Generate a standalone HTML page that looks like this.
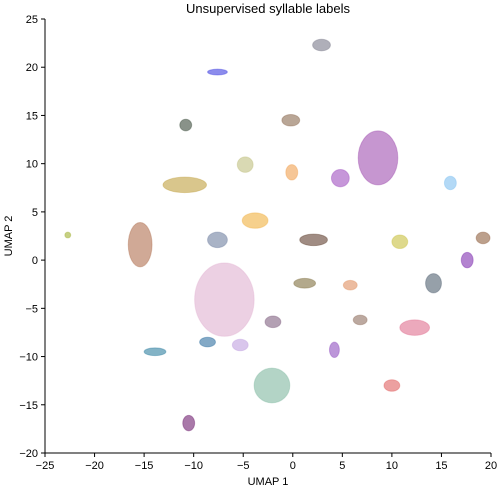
<!DOCTYPE html>
<html><head><meta charset="utf-8"><style>
body{margin:0;background:#fff;}
svg{display:block;font-family:"Liberation Sans",sans-serif;}
</style></head><body>
<svg id="chart" width="500" height="489" viewBox="0 0 500 489">
<text x="268" y="13" text-anchor="middle" font-size="13">Unsupervised syllable labels</text>
<g id="clusters"></g>
<g id="axes"></g>
<text x="268" y="485" text-anchor="middle" font-size="11">UMAP 1</text>
<text x="12" y="236" text-anchor="middle" font-size="11" transform="rotate(-90 12 236)">UMAP 2</text>
</svg>
<script>
const clusterX=[2.9,-7.6,-0.2,-10.8,-4.8,-0.1,8.6,4.8,15.9,-10.9,-3.8,-22.7,-15.4,-7.6,2.1,10.8,17.6,19.2,-6.9,1.2,5.8,14.2,-2,6.8,12.3,-8.6,-5.3,-13.9,4.2,-2.1,10,-10.5];
const clusterY=[22.3,19.5,14.5,14.0,9.9,9.1,10.6,8.5,8.0,7.8,4.1,2.6,1.6,2.1,2.1,1.9,0,2.3,-4.1,-2.4,-2.6,-2.4,-6.4,-6.2,-7,-8.5,-8.8,-9.5,-9.3,-13,-13,-16.9];
const clusterRx=[0.9,1.0,0.9,0.6,0.8,0.6,2.0,0.9,0.6,2.2,1.3,0.3,1.2,1.0,1.4,0.8,0.6,0.7,3.0,1.1,0.7,0.8,0.8,0.7,1.5,0.8,0.8,1.1,0.5,1.8,0.8,0.6];
const clusterRy=[0.6,0.3,0.6,0.6,0.8,0.8,2.8,0.9,0.7,0.8,0.8,0.3,2.3,0.8,0.6,0.7,0.8,0.6,3.8,0.5,0.5,1.0,0.6,0.5,0.8,0.5,0.6,0.4,0.8,1.8,0.6,0.8];
const clusterColors=["#7a7a8a","#4040e0","#8b6a50","#3a4a3a","#c0c080","#f0a050","#a050b0","#a050c0","#80c0f0","#c0a040","#f0b040","#a0b030","#b07050","#7080a0","#604030","#c8c040","#8030b0","#906040","#e0b0d0","#807040","#e09060","#506070","#806080","#907060","#e07090","#3070a0","#c0a0e0","#3080a0","#9050c0","#80b8a0","#e06060","#702070"];
const xTicks=[-25,-20,-15,-10,-5,0,5,10,15,20];
const yTicks=[-20,-15,-10,-5,0,5,10,15,20,25];
const X0=45,X1=491,Y0=453,Y1=19;
const sx=v=>X0+(v+25)/45*(X1-X0);
const sy=v=>Y0-(v+20)/45*(Y0-Y1);
const NS="http://www.w3.org/2000/svg";
const cg=document.getElementById('clusters');
clusterX.forEach((x,i)=>{
  const e=document.createElementNS(NS,'ellipse');
  e.setAttribute('cx',sx(x));e.setAttribute('cy',sy(clusterY[i]));
  e.setAttribute('rx',clusterRx[i]*(X1-X0)/45);e.setAttribute('ry',clusterRy[i]*(Y0-Y1)/45);
  e.setAttribute('fill',clusterColors[i]);e.setAttribute('fill-opacity','0.6');
  e.setAttribute('stroke',clusterColors[i]);e.setAttribute('stroke-opacity','0.4');
  
  
  cg.appendChild(e);
});
const ag=document.getElementById('axes');
function add(tag,attrs,text){const el=document.createElementNS(NS,tag);for(const k in attrs)el.setAttribute(k,attrs[k]);if(text!==undefined)el.textContent=text;ag.appendChild(el);return el;}
const xl=add('line',{x1:X0,y1:Y0,x2:X1,y2:Y0,stroke:'#000','stroke-width':1});


const yl=add('line',{x1:X0,y1:Y0,x2:X0,y2:Y1,stroke:'#000','stroke-width':1});


xTicks.forEach(t=>{
  add('line',{x1:sx(t),y1:Y0,x2:sx(t),y2:Y0+4,stroke:'#000'});
  const l=add('text',{x:sx(t),y:Y0+16,'text-anchor':'middle','font-size':11},String(t).replace('-','\u2212'));
  
  
});
yTicks.forEach(t=>{
  add('line',{x1:X0-4,y1:sy(t),x2:X0,y2:sy(t),stroke:'#000'});
  const l=add('text',{x:X0-7,y:sy(t)+4,'text-anchor':'end','font-size':11},String(t).replace('-','\u2212'));
  
  
});
</script>
</body></html>
